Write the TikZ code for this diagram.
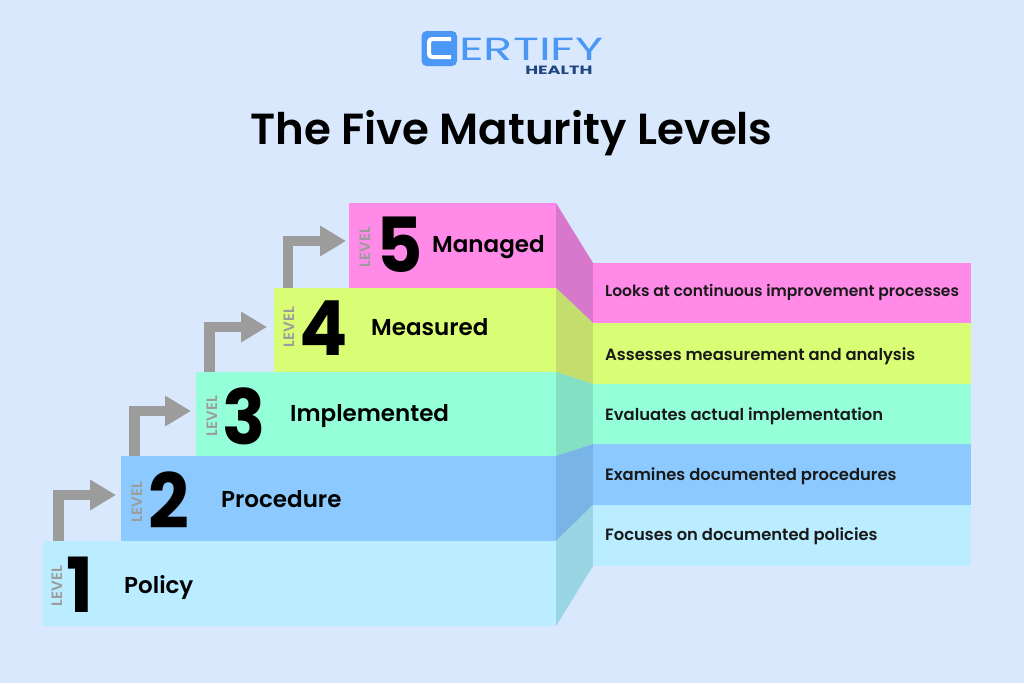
\documentclass[tikz,border=0pt]{standalone}
\usepackage{fontspec}
\setmainfont{Poppins}
\newfontfamily\semifont{Poppins SemiBold}
\usetikzlibrary{arrows.meta}
\definecolor{pagebg}{HTML}{D9E8FC}
\definecolor{policyc}{HTML}{B9EDFF}
\definecolor{procc}{HTML}{8BC9FE}
\definecolor{implc}{HTML}{94FFD8}
\definecolor{measc}{HTML}{D9FD74}
\definecolor{managc}{HTML}{FF8AE8}
\definecolor{policyd}{HTML}{9AD5E3}
\definecolor{procd}{HTML}{78B4E6}
\definecolor{impld}{HTML}{83E0C3}
\definecolor{measd}{HTML}{C4DE6E}
\definecolor{managd}{HTML}{D878CC}
\definecolor{logoblue}{HTML}{4A97F5}
\definecolor{logonavy}{HTML}{1F4680}
\definecolor{arrowgray}{HTML}{9C9C9C}
\tikzset{
  steplabel/.style={anchor=base west,inner sep=0pt,font=\fontsize{23}{23}\semifont},
  bandlabel/.style={anchor=base west,inner sep=0pt,font=\fontsize{16.36}{16.36}\semifont,text=black!90},
  stepnum/.style={inner sep=0pt,xscale=.94,font=\fontsize{76}{76}\selectfont\bfseries},
  levellabel/.style={inner sep=0pt,rotate=90,text=arrowgray,font=\fontsize{15}{15}\semifont},
  bentarrow/.style={draw=arrowgray,line width=10.7pt,-{Triangle[length=26pt,width=29pt]}}
}
\begin{document}
\begin{tikzpicture}[x=1pt,y=-1pt]
\useasboundingbox (0,0) rectangle (1024,683);
\fill[pagebg] (0,0) rectangle (1024,683);

% logo
\fill[logoblue] (421.5,31) [rounded corners=5pt] rectangle (457,66);
\draw[white,line width=4pt,rounded corners=3pt] (451,39)--(429,39)--(429,57)--(451,57);
\node[anchor=base west,inner sep=0pt,text=logoblue,xscale=1.5,font=\fontsize{32}{32}\selectfont] (logotext) at (459,60) {ERTIFY};
\node[anchor=base west,inner sep=0pt,text=logonavy,xscale=1.47,font=\fontsize{12}{12}\selectfont\bfseries] (logosub) at (525,74) {HEALTH};

\node[anchor=base,inner sep=0pt,font=\fontsize{43.5}{43.5}\semifont] (title) at (511.5,144) {The Five Maturity Levels};

% steps
\fill[managc] (349,203) rectangle (556,288);
\fill[measc] (274,288) rectangle (556,372);
\fill[implc] (196,372) rectangle (556,456);
\fill[procc] (121,456) rectangle (556,541);
\fill[policyc] (43,541) rectangle (556,626);

% sides
\fill[managd] (556,203)--(593,263)--(593,323)--(556,288)--cycle;
\fill[measd] (556,288)--(593,323)--(593,384)--(556,372)--cycle;
\fill[impld] (556,372)--(593,384)--(593,444)--(556,456)--cycle;
\fill[procd] (556,456)--(593,444)--(593,505)--(556,541)--cycle;
\fill[policyd] (556,541)--(593,505)--(593,566)--(556,626)--cycle;

% bands
\fill[managc] (593,263) rectangle (971,323);
\fill[measc] (593,323) rectangle (971,384);
\fill[implc] (593,384) rectangle (971,444);
\fill[procc] (593,444) rectangle (971,505);
\fill[policyc] (593,505) rectangle (971,566);

\node[bandlabel,font=\fontsize{15.53}{15.53}\semifont] (band5) at (605,296.5) {Looks at continuous improvement processes};
\node[bandlabel] (band4) at (605,360) {Assesses measurement and analysis};
\node[bandlabel] (band3) at (605,420.5) {Evaluates actual implementation};
\node[bandlabel] (band2) at (605,480) {Examines documented procedures};
\node[bandlabel] (band1) at (605,540.5) {Focuses on documented policies};

\node[levellabel] (level1) at (57,586) {LEVEL};
\node[levellabel] (level2) at (137,502) {LEVEL};
\node[levellabel] (level3) at (212,416) {LEVEL};
\node[levellabel] (level4) at (289,327) {LEVEL};
\node[levellabel] (level5) at (365,247) {LEVEL};

\node[stepnum] (num1) at (80,585) {1};
\node[stepnum] (num2) at (169,500) {2};
\node[stepnum] (num3) at (244.5,416) {3};
\node[stepnum] (num4) at (323.5,328) {4};
\node[stepnum] (num5) at (399.5,245) {5};

\node[steplabel] (policy) at (124,593.5) {Policy};
\node[steplabel] (procedure) at (221,507.5) {Procedure};
\node[steplabel] (implemented) at (290,421) {Implemented};
\node[steplabel] (measured) at (371,335.5) {Measured};
\node[steplabel] (managed) at (432,252) {Managed};

% arrows
\coordinate (from1) at (58.5,541);
\coordinate (to2) at (116,495);
\coordinate (from2) at (134.5,456);
\coordinate (to3) at (191,411);
\coordinate (from3) at (209.5,372);
\coordinate (to4) at (267,327);
\coordinate (from4) at (288,288);
\coordinate (to5) at (346,241);
\draw[bentarrow] (from1) |- (to2);
\draw[bentarrow] (from2) |- (to3);
\draw[bentarrow] (from3) |- (to4);
\draw[bentarrow] (from4) |- (to5);
\end{tikzpicture}
\end{document}
